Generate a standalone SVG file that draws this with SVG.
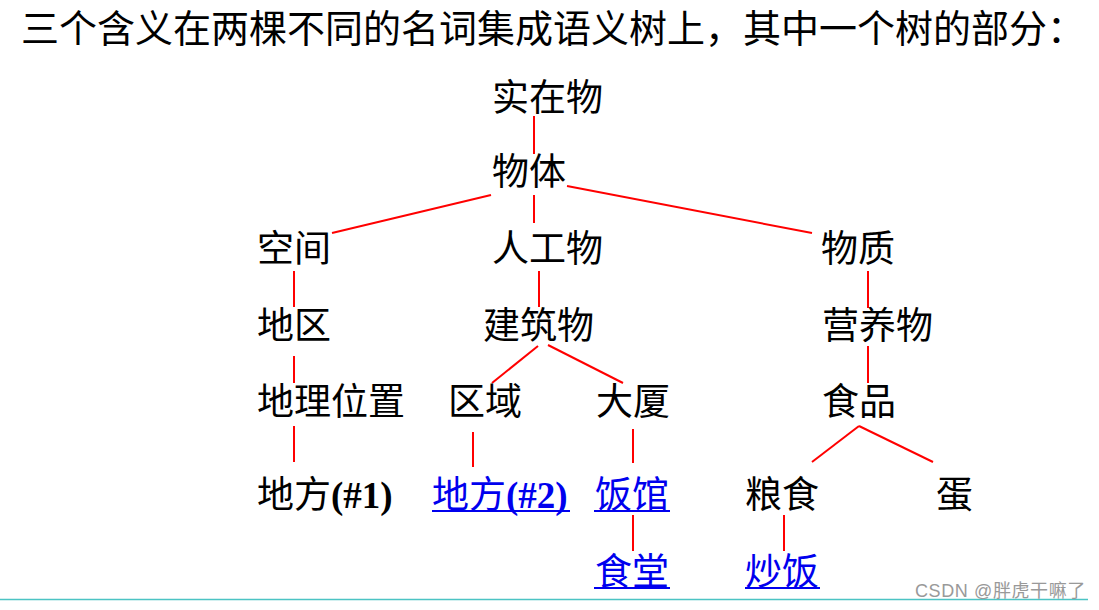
<svg xmlns="http://www.w3.org/2000/svg" width="1099" height="610" viewBox="0 0 1099 610">
<style>
text{font-family:"Liberation Serif","Noto Sans CJK SC",serif;font-size:37px;fill:#000}
.title{font-size:38px}
.b{font-weight:bold}
.lnk{fill:#0000ee}
.ul{stroke:#0000ee;stroke-width:2}
.edge{stroke:#ff0000;stroke-width:2;fill:none}
.wm{font-family:"Liberation Sans","Noto Sans CJK SC",sans-serif;font-size:18px;fill:#999;letter-spacing:0.6px}
</style>
<rect width="1099" height="610" fill="#fff"/>
<text id="title" class="title" x="21" y="41.5">三个含义在两棵不同的名词集成语义树上，其中一个树的部分：</text>
<g id="connectors" class="edge">
<line x1="534" y1="116" x2="534" y2="154"/>
<line x1="491" y1="195" x2="332" y2="233"/>
<line x1="534" y1="195" x2="534" y2="223"/>
<line x1="567" y1="186" x2="812" y2="233"/>
<line x1="294" y1="271" x2="294" y2="307"/>
<line x1="539" y1="271" x2="539" y2="307"/>
<line x1="868" y1="271" x2="868" y2="308"/>
<line x1="294" y1="356" x2="294" y2="383"/>
<line x1="538" y1="346" x2="492" y2="383"/>
<line x1="548" y1="345" x2="623" y2="383"/>
<line x1="868" y1="346" x2="868" y2="383"/>
<line x1="294" y1="426" x2="294" y2="462"/>
<line x1="473" y1="432" x2="473" y2="467"/>
<line x1="633" y1="429" x2="633" y2="463"/>
<line x1="859" y1="426" x2="812" y2="462"/>
<line x1="859" y1="426" x2="933" y2="462"/>
<line x1="633" y1="515" x2="633" y2="551"/>
<line x1="784" y1="515" x2="784" y2="551"/>
</g>
<g id="n-shizaiwu"><text x="492" y="110.5">实在物</text></g>
<g id="n-wuti"><text x="492" y="185">物体</text></g>
<g id="n-kongjian"><text x="257" y="261.5">空间</text></g>
<g id="n-rengongwu"><text x="492" y="261.5">人工物</text></g>
<g id="n-wuzhi"><text x="821" y="261.5">物质</text></g>
<g id="n-diqu"><text x="257" y="338.5">地区</text></g>
<g id="n-jianzhuwu"><text x="483" y="338.5">建筑物</text></g>
<g id="n-yingyangwu"><text x="822" y="338.5">营养物</text></g>
<g id="n-dilweizhi"><text x="257" y="415">地理位置</text></g>
<g id="n-quyu"><text x="448" y="415">区域</text></g>
<g id="n-dasha"><text x="596" y="415">大厦</text></g>
<g id="n-shipin"><text x="822" y="415">食品</text></g>
<g id="n-difang1"><text x="257" y="507.5">地方<tspan class="b">(#1)</tspan></text></g>
<g id="n-difang2"><text class="lnk" x="432" y="507.5">地方<tspan class="b">(#2)</tspan></text><line class="ul" x1="432" y1="511" x2="570" y2="511"/></g>
<g id="n-fanguan"><text class="lnk" x="595" y="507.5">饭馆</text><line class="ul" x1="594" y1="511" x2="670" y2="511"/></g>
<g id="n-liangshi"><text x="745" y="507.5">粮食</text></g>
<g id="n-dan"><text x="936" y="507.5">蛋</text></g>
<g id="n-shitang"><text class="lnk" x="595" y="584.5">食堂</text><line class="ul" x1="594" y1="588" x2="670" y2="588"/></g>
<g id="n-chaofan"><text class="lnk" x="745" y="584.5">炒饭</text><line class="ul" x1="745" y1="588" x2="820" y2="588"/></g>
<line x1="0" y1="599.5" x2="1088" y2="599.5" stroke="#4cc4c4" stroke-width="1.5"/>
<text class="wm" x="915" y="597">CSDN @胖虎干嘛了</text>
</svg>
